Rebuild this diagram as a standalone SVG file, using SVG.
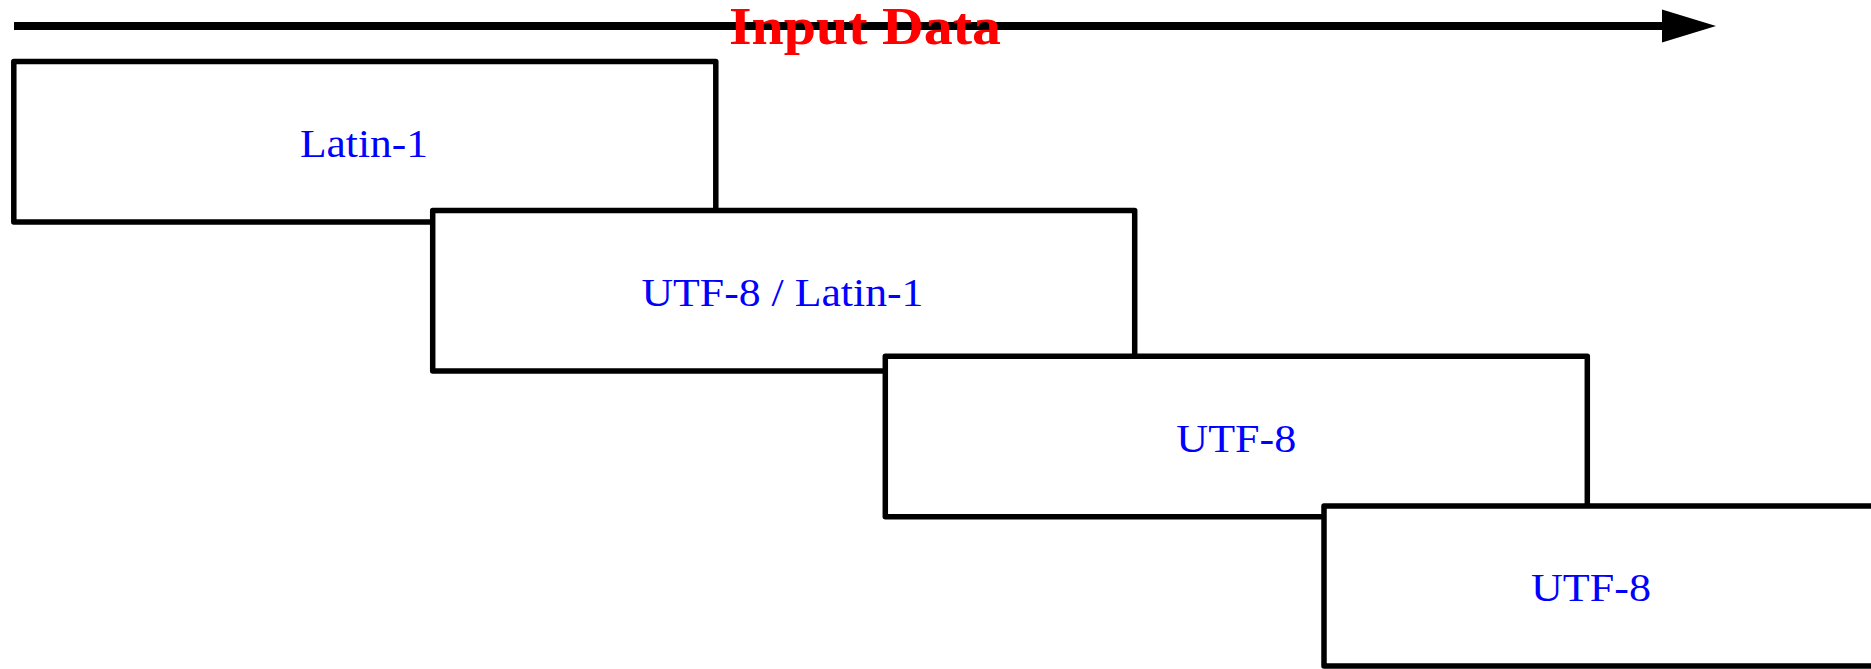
<svg xmlns="http://www.w3.org/2000/svg" width="1871" height="669" viewBox="0 0 1871 669">
  <style>
    .box { fill: #ffffff; stroke: #000000; stroke-width: 5.5; stroke-linejoin: round; }
    .lbl { font-family: "Liberation Serif", "Times New Roman", serif; font-size: 40px; fill: #0000ff; text-anchor: middle; }
    .title { font-family: "Liberation Serif", "Times New Roman", serif; font-size: 52px; font-weight: bold; fill: #ff0000; text-anchor: middle; }
  </style>
  <rect width="1871" height="669" fill="#ffffff"/>
  <g id="connectors">
    <line x1="14" y1="26" x2="1664" y2="26" stroke="#000000" stroke-width="8"/>
    <polygon points="1662,9.5 1716,26 1662,42.5" fill="#000000"/>
  </g>
  <g id="title">
    <text class="title" x="865" y="43.5" textLength="272" lengthAdjust="spacingAndGlyphs">Input Data</text>
  </g>
  <g id="node-latin1">
    <rect class="box" x="13.8" y="61.5" width="702" height="160.5"/>
    <text class="lbl" x="364" y="156.7" textLength="128" lengthAdjust="spacingAndGlyphs">Latin-1</text>
  </g>
  <g id="node-utf8-latin1">
    <rect class="box" x="432.7" y="210.5" width="702" height="160.5"/>
    <text class="lbl" x="782.5" y="305.7" textLength="282" lengthAdjust="spacingAndGlyphs">UTF-8 / Latin-1</text>
  </g>
  <g id="node-utf8-a">
    <rect class="box" x="885.3" y="356.3" width="702" height="160.5"/>
    <text class="lbl" x="1236.3" y="451.5" textLength="120" lengthAdjust="spacingAndGlyphs">UTF-8</text>
  </g>
  <g id="node-utf8-b">
    <rect class="box" x="1324" y="506" width="702" height="160"/>
    <text class="lbl" x="1591" y="600.7" textLength="120" lengthAdjust="spacingAndGlyphs">UTF-8</text>
  </g>
</svg>
